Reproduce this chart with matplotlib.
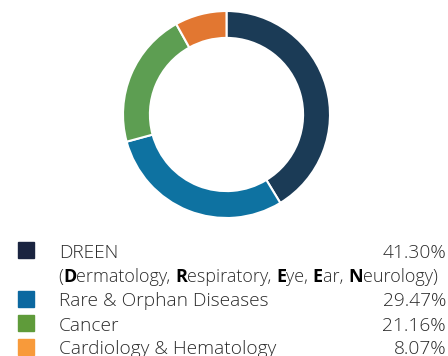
import matplotlib
matplotlib.use("Agg")
import matplotlib.pyplot as plt
from matplotlib.offsetbox import TextArea, HPacker, AnchoredOffsetbox

# --- Datos ---
categorias = ["DREEN", "Rare & Orphan Diseases", "Cancer", "Cardiology & Hematology"]
porcentajes = [41.30, 29.47, 21.16, 8.07]
colores_anillo = ["#1b3b56", "#0e72a1", "#5d9e52", "#e27731"]
colores_leyenda = ["#1a2440", "#0b68a0", "#5f9b3a", "#f89a3a"]
subtitulo = [("(", "light"), ("D", "bold"), ("ermatology, ", "light"),
             ("R", "bold"), ("espiratory, ", "light"), ("E", "bold"),
             ("ye, ", "light"), ("E", "bold"), ("ar, ", "light"),
             ("N", "bold"), ("eurology)", "light")]

W, H = 448, 356
fig = plt.figure(figsize=(W / 100, H / 100), dpi=100)
plt.rcParams['font.family'] = ['Open Sans', 'DejaVu Sans']

# --- Anillo ---
cx, cy, r = 226.5, 114.5, 103.5
ax = fig.add_axes([(cx - r) / W, (H - cy - r) / H, 2 * r / W, 2 * r / H])
ax.pie(porcentajes, colors=colores_anillo, startangle=90, counterclock=False,
       radius=1.0, wedgeprops=dict(width=0.26, edgecolor="white", linewidth=1.5))
ax.set_xlim(-1, 1)
ax.set_ylim(-1, 1)
ax.set_aspect("equal")
ax.axis("off")

# --- Leyenda ---
fs = 13.8
fs_sub = 13
color_txt = "#2b2b2b"
filas_y = [258, 306.5, 331, 354.5]   # líneas base, en px desde arriba
for nombre, p, col, yb in zip(categorias, porcentajes, colores_leyenda, filas_y):
    fig.patches.append(plt.Rectangle((17.5 / W, (H - yb) / H), 16 / W, 16 / H,
                                     color=col, transform=fig.transFigure))
    fig.text(59 / W, (H - yb) / H, nombre, fontsize=fs, fontweight="light",
             color=color_txt, va="baseline", ha="left")
    fig.text(446 / W, (H - yb) / H, f"{p:.2f}%", fontsize=fs, fontweight="light",
             color=color_txt, va="baseline", ha="right")

# segunda línea con las iniciales en negrita
piezas = [TextArea(t, textprops=dict(fontsize=fs_sub, fontweight=w,
                                     color="black" if w == "bold" else color_txt))
          for t, w in subtitulo]
caja = HPacker(children=piezas, pad=0, sep=0, align="baseline")
anc = AnchoredOffsetbox(loc="lower left", child=caja, pad=0, borderpad=0, frameon=False,
                        bbox_to_anchor=(58 / W, (H - 286) / H),
                        bbox_transform=fig.transFigure)
fig.add_artist(anc)

fig.savefig("out.png", dpi=100)
